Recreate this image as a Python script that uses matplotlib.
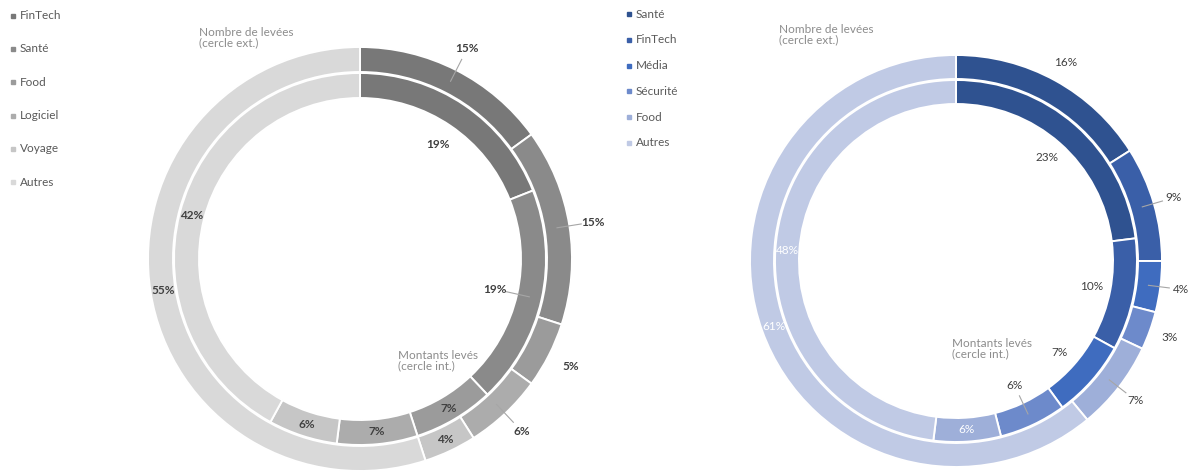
import numpy as np
import matplotlib.pyplot as plt

plt.rcParams['font.family'] = ['Lato', 'DejaVu Sans']

# données (en %)
left_cats = ['FinTech', 'Santé', 'Food', 'Logiciel', 'Voyage', 'Autres']
left_outer = [15, 15, 5, 6, 4, 55]   # nombre de levées
left_inner = [19, 19, 7, 7, 6, 42]   # montants levés

right_cats = ['Santé', 'FinTech', 'Média', 'Sécurité', 'Food', 'Autres']
right_outer = [16, 9, 4, 3, 7, 61]
right_inner = [23, 10, 7, 6, 6, 48]

left_colors = ['#787878', '#8a8a8a', '#9b9b9b', '#acacac', '#c6c6c6', '#d9d9d9']
right_colors = ['#2f5290', '#3a5fa8', '#3f6cbf', '#6d8acb', '#9eafd9', '#c0cae5']

# placement des étiquettes : 'in' = sur l'anneau, 'out' = dehors, 'hole' = dans le trou
left_out_place = ['out', 'out', 'out', 'out', 'in', 'in']
left_out_leader = [True, True, False, True, False, False]
left_in_place = ['hole', 'hole', 'in', 'in', 'in', 'in']
left_in_leader = [False, True, False, False, False, False]

right_out_place = ['out', 'out', 'out', 'out', 'out', 'in']
right_out_leader = [False, True, True, False, True, False]
right_in_place = ['hole', 'hole', 'hole', 'hole', 'in', 'in']
right_in_leader = [False, False, False, True, False, False]
right_out_txt = ['#404040'] * 5 + ['white']
right_in_txt = ['#404040'] * 4 + ['white', 'white']

H = 471  # hauteur en pixels
FS = 8.5


def ring(ax, vals, colors, cx, cy, r, w):
    wedges, _ = ax.pie(vals, radius=r, center=(cx, cy), startangle=90,
                       counterclock=False, colors=colors, frame=True,
                       wedgeprops=dict(width=w, edgecolor='white', linewidth=1.4))
    return wedges


def ring_labels(ax, wedges, vals, cx, cy, r, w, places, leaders, tcol,
                weight, d_out, d_hole):
    r_mid = r - w / 2
    for wd, v, p, ld, c in zip(wedges, vals, places, leaders, tcol):
        a = np.deg2rad((wd.theta1 + wd.theta2) / 2)
        if p == 'in':
            rl = r_mid
        elif p == 'out':
            rl = r + d_out
        else:
            rl = r - w - d_hole
        if ld:
            r1 = rl - 12 if p == 'out' else rl + 11
            ax.plot([cx + r_mid * np.cos(a), cx + r1 * np.cos(a)],
                    [cy + r_mid * np.sin(a), cy + r1 * np.sin(a)],
                    color='#a6a6a6', lw=0.8)
        ax.text(cx + rl * np.cos(a), cy + rl * np.sin(a), f'{v}%',
                ha='center', va='center', fontsize=FS, color=c,
                fontweight=weight)


def legend(ax, cats, colors, x, y0, dy):
    for i, (cat, col) in enumerate(zip(cats, colors)):
        y = H - (y0 + dy * i)
        ax.plot(x, y, 's', ms=3.5, color=col)
        ax.text(x + 7, y, cat, ha='left', va='center', fontsize=FS,
                color='#595959')


fig = plt.figure(figsize=(12, 4.71), dpi=100)
ax = fig.add_axes([0, 0, 1, 1])

# graphique de gauche
cx, cy = 360, H - 259
wo = ring(ax, left_outer, left_colors, cx, cy, 212, 25)
wi = ring(ax, left_inner, left_colors, cx, cy, 186, 25)
ring_labels(ax, wo, left_outer, cx, cy, 212, 25, left_out_place,
            left_out_leader, ['#404040'] * 6, 'bold', 24, 0)
ring_labels(ax, wi, left_inner, cx, cy, 186, 25, left_in_place,
            left_in_leader, ['#404040'] * 6, 'bold', 0, 23)
legend(ax, left_cats, left_colors, 13, 15.7, 33.3)
ax.text(199, H - 27, 'Nombre de levées\n(cercle ext.)', ha='left', va='top',
        fontsize=FS, color='#8c8c8c', linespacing=0.95)
ax.text(398, H - 350, 'Montants levés\n(cercle int.)', ha='left', va='top',
        fontsize=FS, color='#8c8c8c', linespacing=0.95)

# graphique de droite
cx, cy = 956, H - 261
wo = ring(ax, right_outer, right_colors, cx, cy, 206, 24)
wi = ring(ax, right_inner, right_colors, cx, cy, 181, 24)
ring_labels(ax, wo, right_outer, cx, cy, 206, 24, right_out_place,
            right_out_leader, right_out_txt, 'normal', 21, 0)
ring_labels(ax, wi, right_inner, cx, cy, 181, 24, right_in_place,
            right_in_leader, right_in_txt, 'normal', 0, 19)
legend(ax, right_cats, right_colors, 629, 14, 25.8)
ax.text(779, H - 24, 'Nombre de levées\n(cercle ext.)', ha='left', va='top',
        fontsize=FS, color='#8c8c8c', linespacing=0.95)
ax.text(952, H - 338, 'Montants levés\n(cercle int.)', ha='left', va='top',
        fontsize=FS, color='#8c8c8c', linespacing=0.95)

ax.set_xlim(0, 1200)
ax.set_ylim(0, H)
ax.axis('off')

fig.savefig('out.png', dpi=100)
